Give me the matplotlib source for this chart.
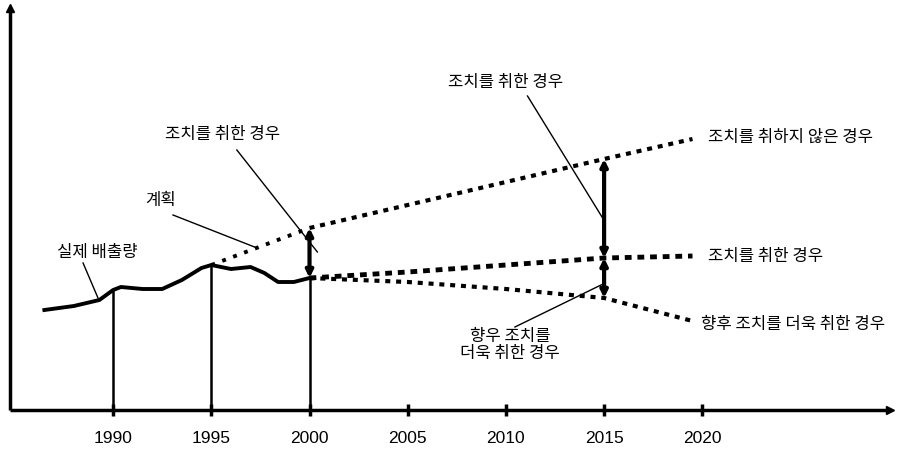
import matplotlib
matplotlib.use('Agg')
import matplotlib.pyplot as plt

kfont = ['Noto Sans CJK KR', 'DejaVu Sans']
nfont = ['Liberation Sans', 'DejaVu Sans']

# 실제 배출량 (임의 단위)
actual_years = [1986.5, 1988.0, 1989.3, 1990.0, 1990.4, 1991.5, 1992.5, 1993.5, 1994.5, 1995.0,
                1996.0, 1997.0, 1997.7, 1998.4, 1999.2, 2000.0]
actual_vals = [100, 104, 110, 120, 123, 121, 121, 130, 142, 145, 141, 143, 137, 128, 128, 132]

# 계획
plan_years = [1995, 2000]
plan_vals = [145, 182]

# 전망
proj_years = [2000, 2005, 2010, 2015, 2019.5]
no_action = [182, 205, 228, 251, 271]
action = [132, 138, 145, 152, 154]
more_action = [132, 128, 121, 112, 89]

ticks = [1990, 1995, 2000, 2005, 2010, 2015, 2020]
drop_years = [1990, 1995, 2000]

fig = plt.figure(figsize=(9.04, 4.54), dpi=100)
ax = fig.add_axes([0, 0, 1, 1])
ax.set_xlim(1984.24, 2030.27)
ax.set_ylim(-44, 410)
ax.spines['bottom'].set_position(('data', 0))
for s in ax.spines.values():
    s.set_visible(False)
ax.set_yticks([])

# 축
x0, x1, ytop = 1984.75, 2029.55, 402
ax.plot([x0, x1], [0, 0], color='k', lw=2.5, solid_capstyle='butt')
ax.plot([x0, x0], [0, ytop], color='k', lw=2.5, solid_capstyle='butt')
ax.plot([x1], [0], marker='>', color='k', ms=6)
ax.plot([x0], [ytop], marker='^', color='k', ms=6)

ax.xaxis.set_ticks_position('bottom')
ax.set_xticks(ticks)
ax.set_xticklabels([str(t) for t in ticks])
ax.tick_params(axis='x', direction='inout', length=8, width=2.5, pad=11,
               labelsize=12.5, labelfontfamily=nfont)

# 수직선
for yr in drop_years:
    v = [a for y, a in zip(actual_years, actual_vals) if y == yr][0]
    ax.plot([yr, yr], [0, v], color='k', lw=1.8)

ax.plot(actual_years, actual_vals, color='k', lw=2.8)
ax.plot(plan_years, plan_vals, color='k', lw=2.8, linestyle=(0, (1, 2)))
ax.plot(proj_years, no_action, color='k', lw=3, linestyle=(0, (1.2, 1.4)))
ax.plot(proj_years, action, color='k', lw=3.5, linestyle=(0, (1.4, 1.2)))
ax.plot(proj_years, more_action, color='k', lw=3, linestyle=(0, (1.2, 1.4)))

def darrow(x, y0, y1):
    ax.annotate('', xy=(x, y1), xytext=(x, y0),
                arrowprops=dict(arrowstyle='<|-|>', color='k', lw=3, mutation_scale=10,
                                shrinkA=0, shrinkB=0))

darrow(2000, action[0], no_action[0])
darrow(2015, action[3], no_action[3])
darrow(2015, more_action[3], action[3])

ax.text(1989.18, 157, '실제 배출량', ha='center', va='center', fontsize=12, fontfamily=kfont)
ax.plot([1988.47, 1989.23], [147, 112], color='k', lw=1)
ax.text(1992.4, 210, '계획', ha='center', va='center', fontsize=12, fontfamily=kfont)
ax.plot([1993.05, 1997.33], [195, 162], color='k', lw=1)
ax.text(1995.55, 275, '조치를 취한 경우', ha='center', va='center', fontsize=12, fontfamily=kfont)
ax.plot([1996.3, 2000.4], [260, 158], color='k', lw=1)
ax.text(2009.96, 328, '조치를 취한 경우', ha='center', va='center', fontsize=12, fontfamily=kfont)
ax.plot([2011.1, 2015.05], [314, 188], color='k', lw=1)
ax.text(2010.2, 65, '향우 조치를\n더욱 취한 경우', ha='center', va='center', fontsize=12,
        fontfamily=kfont, linespacing=1.0)
ax.plot([2010.46, 2015.05], [83, 127], color='k', lw=1)

ax.text(2020.3, 273, '조치를 취하지 않은 경우', ha='left', va='center', fontsize=12, fontfamily=kfont)
ax.text(2020.3, 154, '조치를 취한 경우', ha='left', va='center', fontsize=12, fontfamily=kfont)
ax.text(2019.95, 85, '향후 조치를 더욱 취한 경우', ha='left', va='center', fontsize=12, fontfamily=kfont)

fig.savefig('out.png', dpi=100, facecolor='white')
